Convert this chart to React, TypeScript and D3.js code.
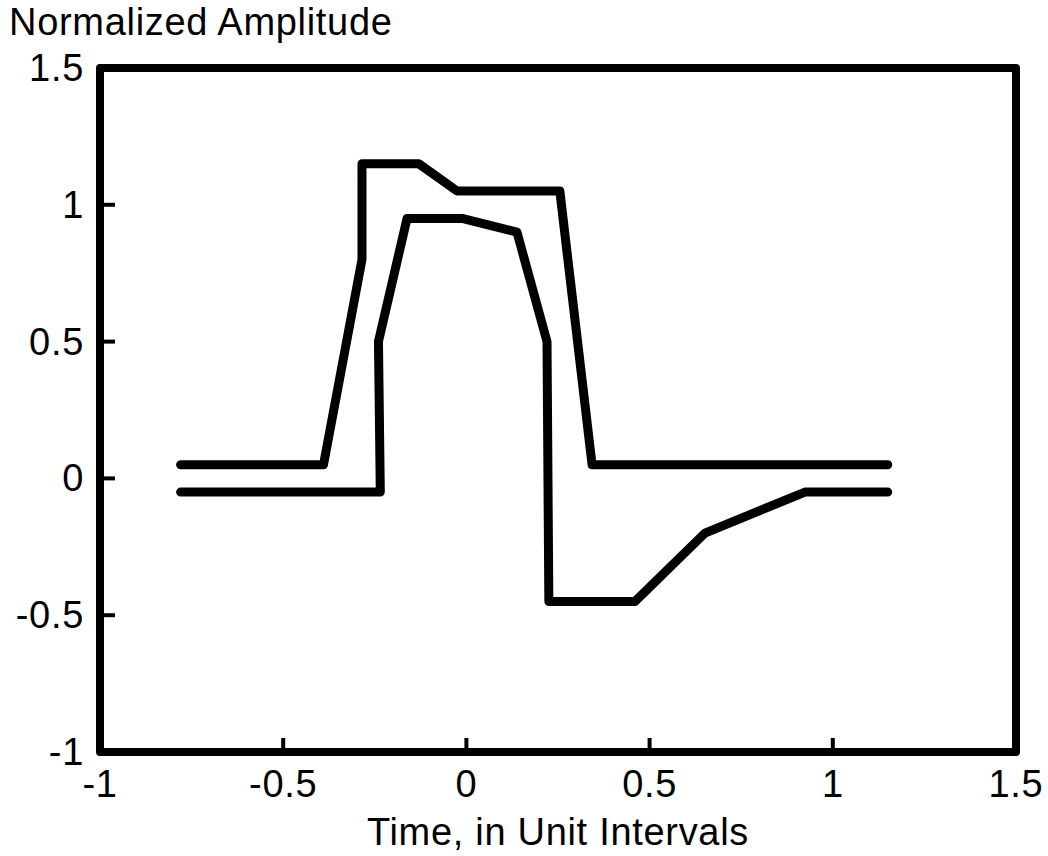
import React from "react";
import * as d3 from "d3";

const upperX = [-0.78, -0.39, -0.285, -0.285, -0.13, -0.025, 0.255, 0.343, 1.15];
const upperY = [0.05, 0.05, 0.8, 1.15, 1.15, 1.05, 1.05, 0.05, 0.05];
const lowerX = [-0.78, -0.235, -0.24, -0.162, -0.012, 0.138, 0.22, 0.225, 0.46, 0.651, 0.924, 1.15];
const lowerY = [-0.05, -0.05, 0.5, 0.95, 0.95, 0.9, 0.5, -0.45, -0.45, -0.2, -0.05, -0.05];
const xTicks = [-1, -0.5, 0, 0.5, 1, 1.5];
const yTicks = [-1, -0.5, 0, 0.5, 1, 1.5];
const innerXTicks = [-0.5, 0, 0.5, 1];
const innerYTicks = [-0.5, 0, 0.5, 1];

const W = 1048, H = 856;
const L = 100, R = 1016, T = 68, B = 752;

export default function App() {
  const x = d3.scaleLinear().domain([-1, 1.5]).range([L, R]);
  const y = d3.scaleLinear().domain([-1, 1.5]).range([B, T]);
  const line = d3.line<[number, number]>().x(d => x(d[0])).y(d => y(d[1]));
  const up = line(upperX.map((v, i) => [v, upperY[i]] as [number, number])) || "";
  const lo = line(lowerX.map((v, i) => [v, lowerY[i]] as [number, number])) || "";
  const fmt = (v: number) => String(v);
  const font = "'Liberation Sans', Arial, Helvetica, sans-serif";
  const fs = 38;
  const ls = 0.7;
  return (
    <svg width={W} height={H} style={{ position: "absolute", left: 0, top: 0, background: "#fff" }} fontFamily={font}>
      <rect x={0} y={0} width={W} height={H} fill="#fff" />
      <text x={9} y={35} fontSize={fs} letterSpacing={ls} fill="#000">Normalized Amplitude</text>
      <rect x={L} y={T} width={R - L} height={B - T} fill="none" stroke="#000" strokeWidth={8} strokeLinejoin="round" />
      {innerXTicks.map(t => (
        <line key={"xt" + t} x1={x(t)} x2={x(t)} y1={B} y2={B - 14} stroke="#000" strokeWidth={4} />
      ))}
      {innerYTicks.map(t => (
        <line key={"yt" + t} x1={L} x2={L + 15} y1={y(t)} y2={y(t)} stroke="#000" strokeWidth={4} />
      ))}
      {xTicks.map(t => (
        <text key={"xl" + t} x={x(t)} y={797} fontSize={fs} letterSpacing={ls} textAnchor="middle" fill="#000">{fmt(t)}</text>
      ))}
      {yTicks.map(t => (
        <text key={"yl" + t} x={84} y={y(t) + 13} fontSize={fs} letterSpacing={ls} textAnchor="end" fill="#000">{fmt(t)}</text>
      ))}
      <text x={(L + R) / 2} y={845} fontSize={fs} letterSpacing={ls} textAnchor="middle" fill="#000">Time, in Unit Intervals</text>
      <path d={up} fill="none" stroke="#000" strokeWidth={9} strokeLinejoin="round" strokeLinecap="round" />
      <path d={lo} fill="none" stroke="#000" strokeWidth={9} strokeLinejoin="round" strokeLinecap="round" />
    </svg>
  );
}
